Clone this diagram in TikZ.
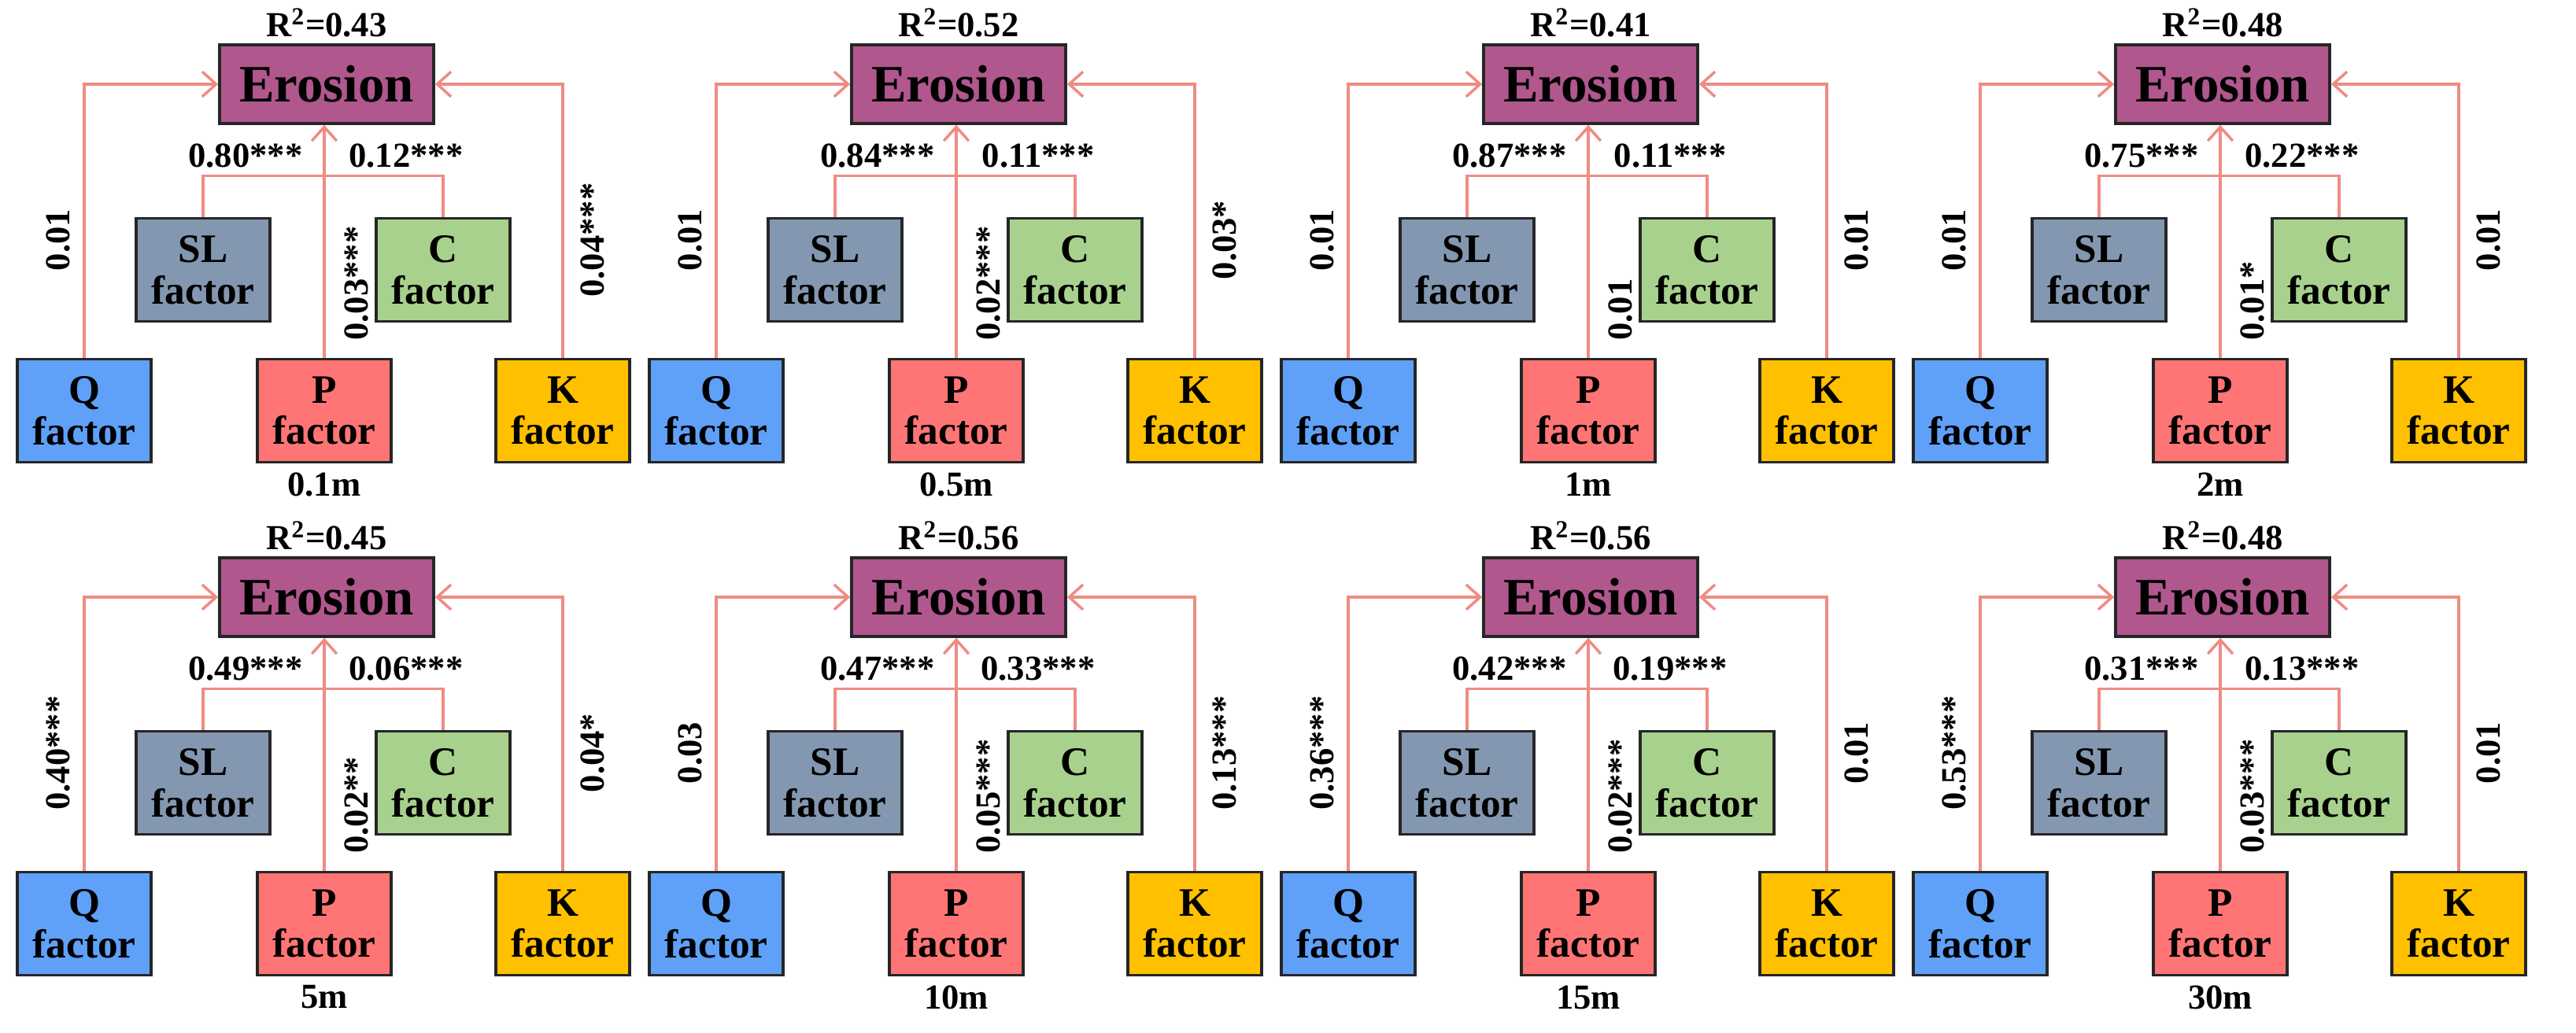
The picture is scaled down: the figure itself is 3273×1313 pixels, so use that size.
\documentclass[tikz,border=0pt]{standalone}
\usepackage{fontspec}
\setmainfont{Liberation Serif}
\usetikzlibrary{arrows.meta,positioning}

\definecolor{erocolor}{RGB}{176,87,141}
\definecolor{slcolor}{RGB}{132,151,176}
\definecolor{ccolor}{RGB}{169,209,142}
\definecolor{qcolor}{RGB}{95,160,248}
\definecolor{pcolor}{RGB}{255,117,117}
\definecolor{kcolor}{RGB}{255,192,0}
\definecolor{linkcolor}{RGB}{238,140,132}

\tikzset{
  box/.style={draw=black!85,line width=1pt,minimum width=1.7cm,minimum height=1.31cm,align=center,
    font=\fontsize{14.6}{15}\selectfont\bfseries,inner sep=0pt},
  link/.style={draw=linkcolor,line width=1pt},
  tip/.style={-{Straight Barb[length=5pt,width=9pt]}},
  coef/.style={font=\fontsize{12.7}{13}\selectfont\bfseries,inner sep=1pt},
}

\begin{document}
\begin{tikzpicture}[x=0.01cm,y=-0.01cm]
\useasboundingbox (0,0) rectangle (3273,1313);
\foreach \col/\row/\scale/\rsq/\csl/\cc/\cq/\cp/\ck in {
  0/0/0.1m/0.43/0.80***/0.12***/0.01/0.03***/0.04***,
  1/0/0.5m/0.52/0.84***/0.11***/0.01/0.02***/0.03*,
  2/0/1m/0.41/0.87***/0.11***/0.01/0.01/0.01,
  3/0/2m/0.48/0.75***/0.22***/0.01/0.01*/0.01,
  0/1/5m/0.45/0.49***/0.06***/0.40***/0.02**/0.04*,
  1/1/10m/0.56/0.47***/0.33***/0.03/0.05***/0.13***,
  2/1/15m/0.56/0.42***/0.19***/0.36***/0.02***/0.01,
  3/1/30m/0.48/0.31***/0.13***/0.53***/0.03***/0.01}{
\begin{scope}[shift={(803*\col,652*\row)}]
  % boxes
  \node (ero) [box,fill=erocolor,minimum width=2.72cm,minimum height=1cm,
    font=\fontsize{19}{20}\selectfont\bfseries] at (415,107) {Erosion};
  \node (sl) [box,fill=slcolor] at (258,343) {SL\\factor};
  \node (c) [box,fill=ccolor] at (563,343) {C\\factor};
  \node (q) [box,fill=qcolor] at (107,522) {Q\\factor};
  \node (p) [box,fill=pcolor] at (412,522) {P\\factor};
  \node (k) [box,fill=kcolor] at (715,522) {K\\factor};
  \node (rsq) [coef,above=1pt of ero] {R\textsuperscript{2}=\rsq};
  \node (scale) [coef,below=2pt of p] {\scale};
  % links
  \draw[link,tip] (q.north) |- (ero.west);
  \draw[link,tip] (k.north) |- (ero.east);
  \draw[link,tip] (p.north) -- (p.north |- ero.south);
  \draw[link] (sl.north) -- ++(0,-52) -| (c.north);
  % coefficients
  \node (lsl) [coef] at (312,198) {\csl};
  \node (lc) [coef] at (516,198) {\cc};
  \node (lq) [coef,rotate=90] at (74,305) {\cq};
  \node (lp) [coef,rotate=90,anchor=north west] at (434,437) {\cp};
  \node (lk) [coef,rotate=90] at (753,305) {\ck};
\end{scope}}
\end{tikzpicture}
\end{document}
